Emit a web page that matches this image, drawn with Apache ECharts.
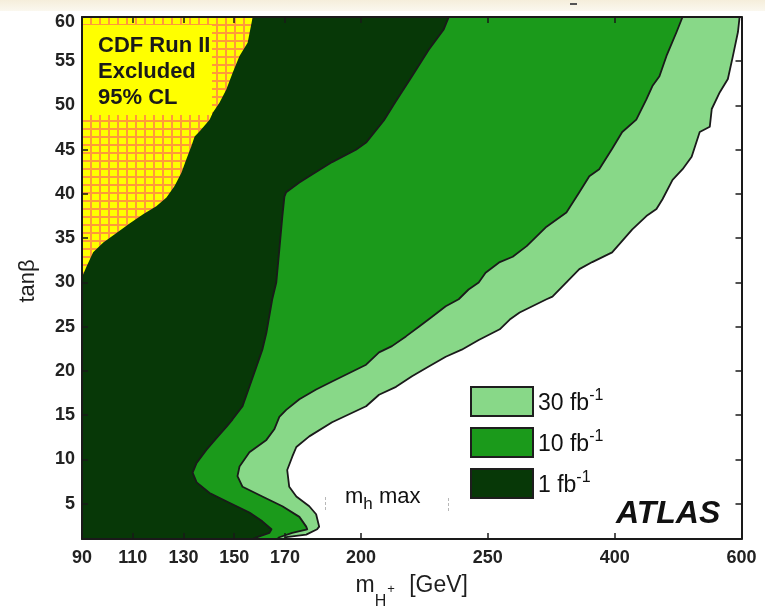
<!DOCTYPE html>
<html>
<head>
<meta charset="utf-8">
<script src="https://cdn.jsdelivr.net/npm/echarts@6/dist/echarts.min.js"></script>
<style>
  html, body { margin: 0; padding: 0; background: #ffffff; }
  #chart { width: 765px; height: 606px; }
</style>
</head>
<body>
<div id="chart"></div>
<script>
// Axis tick labels
const massTicks = [90, 110, 130, 150, 170, 200, 250, 400, 600];
const tanbTicks = [5, 10, 15, 20, 25, 30, 35, 40, 45, 50, 55, 60];

// Region boundaries as [m_H+ (GeV), tan(beta)], from the top edge down to the bottom edge
const cdfExcluded = [
  [157.3, 60], [155.3, 57.1], [152.1, 55.6], [149.4, 53.7], [146.9, 51.8], [144.2, 50.3],
  [141.6, 49.2], [140.3, 48.4], [136.4, 47.1], [134.4, 46.5], [133.1, 45.4], [131.1, 43.9],
  [129.2, 42.4], [126.5, 40.9], [123.3, 39.6], [119.3, 38.6], [114.1, 37.7], [108.9, 36.7],
  [103.6, 35.6], [98.4, 34.5], [94.4, 33.4], [91.8, 31.8], [90, 30.6]
];

const reach1fb = [
  [234.6, 60], [232.6, 58.6], [226.7, 56.3], [220.1, 53.3], [213.8, 50.5], [209.0, 48.3],
  [202.0, 45.8], [198.0, 45.0], [188.6, 43.6], [179.6, 42.0], [175.7, 41.3], [170.5, 40.2],
  [169.8, 39.7], [169.0, 37.5], [167.8, 33.7], [166.6, 30.0], [165.0, 28.1], [162.7, 24.3],
  [161.1, 22.4], [158.8, 20.5], [156.0, 18.2], [153.3, 16.0], [149.3, 14.5], [147.0, 13.7],
  [143.0, 12.4], [139.1, 11.1], [135.2, 9.6], [133.6, 8.5], [135.2, 7.4], [140.3, 6.2],
  [148.1, 5.1], [156.0, 4.0], [161.1, 3.0], [164.7, 2.1], [163.9, 1.7], [159.9, 1.3], [157.2, 1]
];

const reach10fb = [
  [507.0, 60], [497.6, 58.3], [481.7, 55.6], [470.6, 53.3], [459.5, 52.2], [450.0, 50.7],
  [434.1, 48.4], [411.9, 47.0], [397.0, 45.1], [381.7, 42.8], [370.0, 42.0], [358.2, 40.2],
  [342.9, 37.9], [319.4, 36.3], [295.9, 34.1], [279.4, 32.9], [264.1, 32.3], [249.1, 31.1],
  [246.4, 30.0], [242.4, 29.2], [238.5, 28.1], [233.4, 27.3], [227.9, 26.1], [222.8, 25.0],
  [217.7, 23.9], [212.2, 22.8], [207.1, 22.1], [202.0, 20.7], [188.6, 18.8], [182.3, 17.9],
  [175.7, 16.8], [170.5, 15.6], [167.8, 14.8], [165.8, 13.4], [162.7, 12.2], [156.0, 10.8],
  [152.1, 9.2], [151.3, 8.1], [153.3, 6.9], [161.1, 5.8], [169.0, 4.7], [175.7, 3.5],
  [178.4, 2.4], [178.8, 2.1], [172.9, 1.7], [167.8, 1.2], [167.0, 1]
];

const reach30fb = [
  [597.0, 60], [594.4, 58.3], [586.5, 55.6], [578.5, 53.0], [565.8, 51.5], [553.1, 49.6],
  [550.0, 47.6], [534.1, 47.0], [521.4, 44.2], [507.1, 42.8], [491.3, 41.6], [475.4, 39.4],
  [465.9, 38.3], [450.0, 37.5], [427.8, 36.0], [397.0, 33.4], [373.5, 32.3], [358.2, 31.5],
  [342.9, 30.0], [326.4, 28.4], [319.4, 28.1], [287.6, 26.6], [275.9, 25.8], [264.1, 24.7],
  [246.4, 23.5], [239.7, 22.4], [233.4, 21.6], [226.7, 20.5], [220.1, 19.4], [213.8, 18.2],
  [207.1, 17.3], [202.0, 16.0], [188.6, 14.2], [179.6, 12.6], [174.5, 11.4], [172.9, 10.3],
  [170.9, 8.8], [171.7, 6.9], [174.5, 5.8], [179.6, 4.7], [182.3, 3.8], [183.5, 2.4],
  [182.7, 2.1], [178.4, 1.5], [170.5, 1.2], [169.8, 1]
];

const lumiNames = ['30 fb', '10 fb', '1 fb'];

const MASS_MIN = 90, MASS_MAX = 600, TANB_MIN = 1, TANB_MAX = 60;
const FONT = '"Liberation Sans", Arial, Helvetica, sans-serif';
const INK = '#1a1a1a';

// Piecewise-linear mass scale: 90-250 GeV uniform, then 250-400 and 400-600 compressed
function massToAxis(m) {
  if (m <= 250) return m - 90;
  if (m <= 400) return 160 + (m - 250) / 3;
  return 210 + (m - 400) / 4;
}
const massTickPos = massTicks.map(massToAxis);
function massLabel(v) {
  const i = massTickPos.findIndex(p => Math.abs(p - v) < 1e-6);
  return i >= 0 ? String(massTicks[i]) : '';
}

// Orange grid on yellow for the CDF exclusion
function gridPattern() {
  const c = document.createElement('canvas');
  c.width = 9; c.height = 8;
  const g = c.getContext('2d');
  g.fillStyle = '#ffff00';
  g.fillRect(0, 0, 9, 8);
  g.fillStyle = '#ff9a3a';
  g.fillRect(0, 0, 2, 8);
  g.fillRect(0, 0, 9, 2);
  return c;
}

function regionSeries(name, boundary, fill, legendColor, edgeColor) {
  const polygon = [[MASS_MIN, TANB_MAX]].concat(boundary);
  const last = boundary[boundary.length - 1];
  if (last[1] > TANB_MIN) polygon.push([MASS_MIN, last[1]]);
  else polygon.push([MASS_MIN, TANB_MIN]);
  return {
    type: 'custom',
    name: name,
    coordinateSystem: 'cartesian2d',
    silent: true,
    z: 2,
    itemStyle: { color: legendColor },
    data: boundary.map(p => [massToAxis(p[0]), p[1]]),
    renderItem: function (params, api) {
      if (params.dataIndex !== 0) return null;
      const area = polygon.map(p => api.coord([massToAxis(p[0]), p[1]]));
      const edge = boundary.map(p => api.coord([massToAxis(p[0]), p[1]]));
      const children = [{ type: 'polygon', shape: { points: area }, style: { fill: fill } }];
      if (edgeColor) {
        children.push({
          type: 'polyline', shape: { points: edge },
          style: { fill: null, stroke: edgeColor, lineWidth: 1.8, lineJoin: 'round' }
        });
      }
      return { type: 'group', children: children };
    }
  };
}

const frameLine = { show: true, onZero: false, lineStyle: { color: INK, width: 2 } };
const tickStyle = { color: INK, width: 1.5 };
const labelFont = { color: '#222', fontSize: 18, fontWeight: 'bold', fontFamily: FONT };

const chart = echarts.init(document.getElementById('chart'), null, { renderer: 'canvas' });

const option = {
  animation: false,
  backgroundColor: '#ffffff',
  grid: { left: 82, right: 23.5, top: 17, bottom: 67, outerBoundsMode: 'none', containLabel: false },
  xAxis: [
    {
      type: 'value', position: 'bottom', z: 10,
      min: massToAxis(MASS_MIN), max: massToAxis(MASS_MAX),
      axisLine: frameLine,
      axisTick: { show: true, inside: true, length: 6, customValues: massTickPos, lineStyle: tickStyle },
      axisLabel: Object.assign({ show: true, margin: 10, customValues: massTickPos, formatter: massLabel }, labelFont),
      splitLine: { show: false },
      name: '{m|m}{sub|H}{sup|+}{m| [GeV]}',
      nameLocation: 'middle',
      nameGap: 35,
      nameTextStyle: {
        color: '#1e1e1e', fontFamily: FONT, fontSize: 23,
        rich: {
          m: { fontSize: 23, fontFamily: FONT, color: '#1e1e1e', verticalAlign: 'top', lineHeight: 26 },
          sub: { fontSize: 16, fontFamily: FONT, color: '#1e1e1e', verticalAlign: 'top', padding: [20, 0, 0, 0] },
          sup: { fontSize: 13, fontFamily: FONT, color: '#1e1e1e', verticalAlign: 'top', padding: [9, 8, 0, 1] }
        }
      }
    },
    {
      type: 'value', position: 'top', z: 10,
      min: massToAxis(MASS_MIN), max: massToAxis(MASS_MAX),
      axisLine: frameLine,
      axisTick: { show: true, inside: true, length: 6, customValues: massTickPos, lineStyle: tickStyle },
      axisLabel: { show: false },
      splitLine: { show: false }
    }
  ],
  yAxis: [
    {
      type: 'value', position: 'left', z: 10,
      min: TANB_MIN, max: TANB_MAX,
      axisLine: frameLine,
      axisTick: { show: true, inside: true, length: 6, customValues: tanbTicks, lineStyle: tickStyle },
      axisLabel: Object.assign({
        show: true, margin: 7, customValues: tanbTicks,
        formatter: v => (v === TANB_MAX ? '{top|' + v + '}' : String(v)),
        rich: { top: { padding: [10, 0, 0, 0], fontSize: 18, fontWeight: 'bold', fontFamily: FONT, color: '#222' } }
      }, labelFont),
      splitLine: { show: false },
      name: 'tanβ',
      nameLocation: 'middle',
      nameGap: 43,
      nameTextStyle: { color: '#1e1e1e', fontFamily: FONT, fontSize: 22, padding: [0, 6, 0, 0] }
    },
    {
      type: 'value', position: 'right', z: 10,
      min: TANB_MIN, max: TANB_MAX,
      axisLine: frameLine,
      axisTick: { show: true, inside: true, length: 6, customValues: tanbTicks, lineStyle: tickStyle },
      axisLabel: { show: false },
      splitLine: { show: false }
    }
  ],
  legend: {
    data: lumiNames,
    orient: 'vertical',
    left: 470, top: 386,
    padding: 0,
    itemGap: 10,
    itemWidth: 62, itemHeight: 29,
    icon: 'rect',
    selectedMode: false,
    itemStyle: { borderColor: '#1e1e1e', borderWidth: 2 },
    formatter: n => '{a|' + n + '}{s|-1}',
    textStyle: {
      color: '#111', fontFamily: FONT, fontSize: 23,
      rich: {
        a: { fontSize: 23, fontFamily: FONT, color: '#111', lineHeight: 28, verticalAlign: 'bottom' },
        s: { fontSize: 16, fontFamily: FONT, color: '#111', verticalAlign: 'top' }
      }
    }
  },
  series: [
    regionSeries('30 fb', reach30fb, '#88d888', '#88d888', INK),
    regionSeries('10 fb', reach10fb, '#1b9a1b', '#1b9a1b', INK),
    regionSeries('1 fb', reach1fb, '#073807', '#073807', INK),
    regionSeries('CDF', cdfExcluded, { image: gridPattern(), repeat: 'repeat' }, '#ffff00', null)
  ],
  graphic: [
    {
      type: 'rect', z: 0, silent: true,
      shape: { x: 0, y: 0, width: 765, height: 11 },
      style: {
        fill: new echarts.graphic.LinearGradient(0, 0, 0, 1, [
          { offset: 0, color: '#f5eedb' }, { offset: 1, color: '#fbf8ef' }
        ])
      }
    },
    {
      type: 'line', z: 1, silent: true,
      shape: { x1: 570, y1: 4, x2: 577, y2: 4 },
      style: { stroke: '#555', lineWidth: 2 }
    },
    {
      type: 'rect', z: 50, silent: true,
      shape: { x: 83, y: 25, width: 129, height: 90 },
      style: { fill: '#ffff00' }
    },
    {
      type: 'text', z: 51, silent: true,
      style: {
        x: 98, y: 32.7, text: 'CDF Run II\nExcluded\n95% CL',
        font: 'bold 22px ' + FONT, fill: '#1a1a1a', lineHeight: 26, verticalAlign: 'top'
      }
    },
    {
      type: 'text', z: 51, silent: true,
      style: {
        x: 345, y: 486, verticalAlign: 'top',
        text: '{a|m}{b|h}{a| max}',
        rich: {
          a: { fontSize: 22, fontFamily: FONT, fill: '#111', verticalAlign: 'top', lineHeight: 22 },
          b: { fontSize: 17, fontFamily: FONT, fill: '#111', verticalAlign: 'top', padding: [10, 0, 0, 0] }
        }
      }
    },
    {
      type: 'line', z: 51, silent: true,
      shape: { x1: 325.5, y1: 497, x2: 325.5, y2: 512 },
      style: { stroke: '#b8b8b8', lineWidth: 1, lineDash: [3, 2] }
    },
    {
      type: 'line', z: 51, silent: true,
      shape: { x1: 448.5, y1: 498, x2: 448.5, y2: 512 },
      style: { stroke: '#b8b8b8', lineWidth: 1, lineDash: [3, 2] }
    },
    {
      type: 'text', z: 51, silent: true,
      style: {
        x: 616, y: 514, verticalAlign: 'middle',
        text: 'ATLAS', font: 'italic bold 32px ' + FONT, fill: '#111'
      }
    }
  ]
};

chart.setOption(option);
</script>
</body>
</html>
